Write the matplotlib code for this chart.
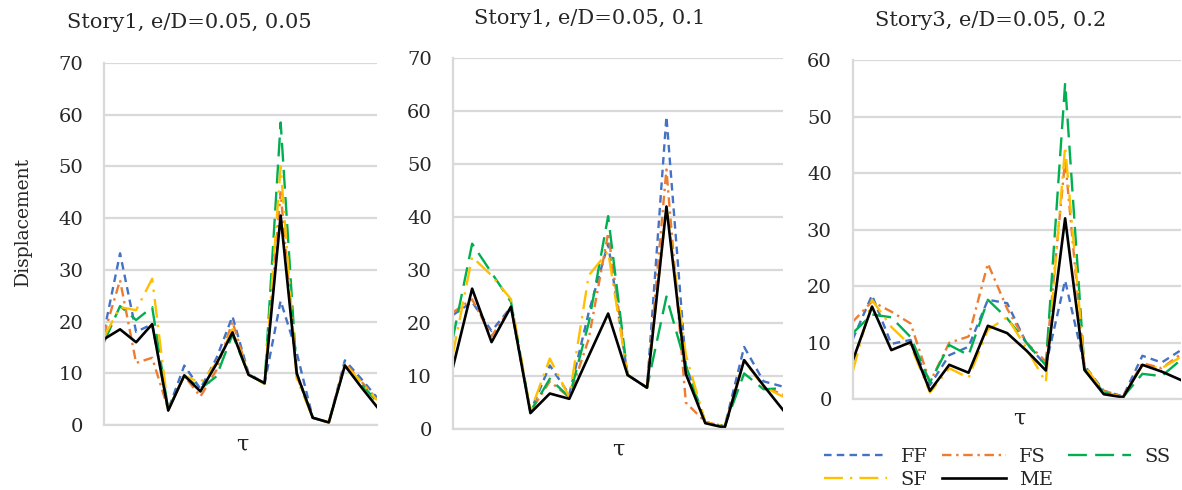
import matplotlib
matplotlib.use("Agg")
import matplotlib.pyplot as plt

plt.rcParams['font.family'] = ['DejaVu Serif']

tau_index = list(range(18))
series_names = ["FF", "FS", "SS", "SF", "ME"]

# Panel 1: Story1, e/D=0.05, 0.05
p1_FF = [18, 33.2, 18, 19.5, 3, 11.5, 7, 12.9, 21, 10, 8, 24, 14, 1.4, 0.5, 12.5, 9, 5.3]
p1_FS = [17.5, 28, 12, 13, 3, 9.5, 5.5, 10.6, 20, 9.8, 8, 45, 9.5, 1.4, 0.5, 12, 8.5, 5]
p1_SS = [16, 23, 20.3, 22.8, 3, 9.5, 7, 9.4, 17.5, 9.8, 8, 58.5, 10, 1.4, 0.5, 11.5, 8, 4.5]
p1_SF = [17, 22.8, 22.2, 28.3, 3, 9.5, 8.2, 12, 18.5, 9.8, 8, 50, 9, 1.4, 0.5, 11.8, 8.3, 4.8]
p1_ME = [16.6, 18.5, 16, 19.5, 2.8, 9.6, 6.5, 11.8, 17.9, 9.7, 8.1, 40.5, 10, 1.4, 0.5, 11.5, 7.4, 3.5]

# Panel 2: Story1, e/D=0.05, 0.1
p2_FF = [21.5, 24, 18.5, 23, 3.3, 12, 6.5, 22, 35, 10.2, 7.8, 59, 12, 1.3, 0.5, 15.5, 9, 8]
p2_FS = [22, 24.5, 17.5, 23, 3.3, 9, 6, 17, 37, 10.2, 7.8, 49, 5, 1.3, 0.5, 13, 8, 6.5]
p2_SS = [17, 35, 29.5, 24, 3.3, 9.5, 6, 20, 40.2, 10.2, 7.8, 25, 12, 1.3, 0.5, 10.5, 7.5, 7.7]
p2_SF = [14, 32.5, 29, 24.5, 3.3, 13.3, 6, 29, 33.5, 10.2, 7.8, 42, 14, 1.3, 0.5, 13, 8, 6.1]
p2_ME = [11.5, 26.5, 16.4, 23.1, 3.0, 6.7, 5.7, 13.8, 21.8, 10.2, 7.8, 42, 10.4, 1.1, 0.25, 13, 8.2, 3.6]

# Panel 3: Story3, e/D=0.05, 0.2
p3_FF = [10.6, 18.4, 9.8, 10.5, 2.5, 7.8, 9.3, 17.6, 17, 9.9, 6, 21, 6, 1.5, 0.5, 7.7, 6.5, 8.7]
p3_FS = [13.7, 17.3, 15.5, 13.4, 3, 10, 11.1, 24, 16, 10, 6.7, 42.3, 5.5, 1.5, 0.5, 6.4, 5.5, 8]
p3_SS = [11.7, 15, 14.5, 11, 3, 9.6, 7.8, 17.6, 14.3, 10, 6, 55.9, 5.5, 1.2, 0.4, 4.5, 4.1, 7]
p3_SF = [4.9, 17.6, 12.8, 9.5, 1.2, 5.5, 3.8, 12.3, 14.5, 9, 3, 44.7, 6, 1.2, 0.4, 6, 5.5, 7.5]
p3_ME = [6.8, 16.4, 8.7, 10.1, 1.5, 6.1, 4.7, 13.0, 11.7, 8.6, 5.1, 32, 5.2, 0.9, 0.35, 6.1, 4.9, 3.4]

titles = ["Story1, e/D=0.05, 0.05", "Story1, e/D=0.05, 0.1", "Story3, e/D=0.05, 0.2"]
ymax = [70, 70, 60]

colors = {"FF": "#4472C4", "FS": "#ED7D31", "SS": "#00B050", "SF": "#FFC000", "ME": "#000000"}
styles = {
    "FF": (0, (3.2, 2.2)),
    "FS": (0, (4, 2, 1, 2)),
    "SS": (0, (8, 3.5)),
    "SF": (0, (8, 3, 1, 3)),
    "ME": "-",
}

W, H = 1182, 490
fig = plt.figure(figsize=(W / 100, H / 100), dpi=100)

rects_px = [(104, 63, 377, 425), (452.7, 58.3, 783, 429), (852.7, 60, 1181, 399.3)]
panels = [
    [p1_FF, p1_FS, p1_SS, p1_SF, p1_ME],
    [p2_FF, p2_FS, p2_SS, p2_SF, p2_ME],
    [p3_FF, p3_FS, p3_SS, p3_SF, p3_ME],
]
title_pos = [(189, 23), (590, 18), (991, 20)]
tau_pos = [(242, 445), (618, 450), (1019, 419)]

grid_c = "#D9D9D9"
text_c = "#262626"

handles = {}
for i, (rect, data) in enumerate(zip(rects_px, panels)):
    l, t, r, b = rect
    ax = fig.add_axes([l / W, 1 - b / H, (r - l) / W, (b - t) / H])
    for name, vals in zip(series_names, data):
        ln, = ax.plot(tau_index, vals, color=colors[name], linestyle=styles[name],
                      lw=1.7 if name != "ME" else 1.9, label=name)
        if i == 0:
            handles[name] = ln
    ax.set_xlim(tau_index[0], tau_index[-1])
    ax.set_ylim(0, ymax[i])
    ax.set_yticks(range(0, ymax[i] + 1, 10))
    ax.set_xticks([])
    ax.yaxis.grid(True, color=grid_c, lw=1.6)
    ax.set_axisbelow(True)
    for s in ["top", "right"]:
        ax.spines[s].set_visible(False)
    for s in ["left", "bottom"]:
        ax.spines[s].set_color(grid_c)
        ax.spines[s].set_linewidth(1.6)
    ax.tick_params(axis="y", length=0, pad=15, labelsize=14, labelcolor=text_c)
    fig.text(title_pos[i][0] / W, 1 - title_pos[i][1] / H, titles[i],
             ha="center", va="center", fontsize=15, color=text_c)
    fig.text(tau_pos[i][0] / W, 1 - tau_pos[i][1] / H, "τ",
             ha="center", va="center", fontsize=16, color=text_c)

fig.text(23 / W, 1 - 221 / H, "Displacement", rotation=90, ha="center", va="center",
         fontsize=13.5, color=text_c)

# row-wise legend order like the original: FF FS SS / SF ME
leg_order = ["FF", "SF", "FS", "ME", "SS"]
leg = fig.legend(handles=[handles[n] for n in leg_order], labels=leg_order, ncol=3,
                 loc="upper left", bbox_to_anchor=(824 / W, 1 - 448 / H),
                 frameon=False, fontsize=14, handlelength=3.25, handletextpad=0.7,
                 columnspacing=0.75, labelspacing=0.25, borderpad=0, borderaxespad=0)
for txt in leg.get_texts():
    txt.set_color(text_c)

fig.savefig("out.png", dpi=100)
